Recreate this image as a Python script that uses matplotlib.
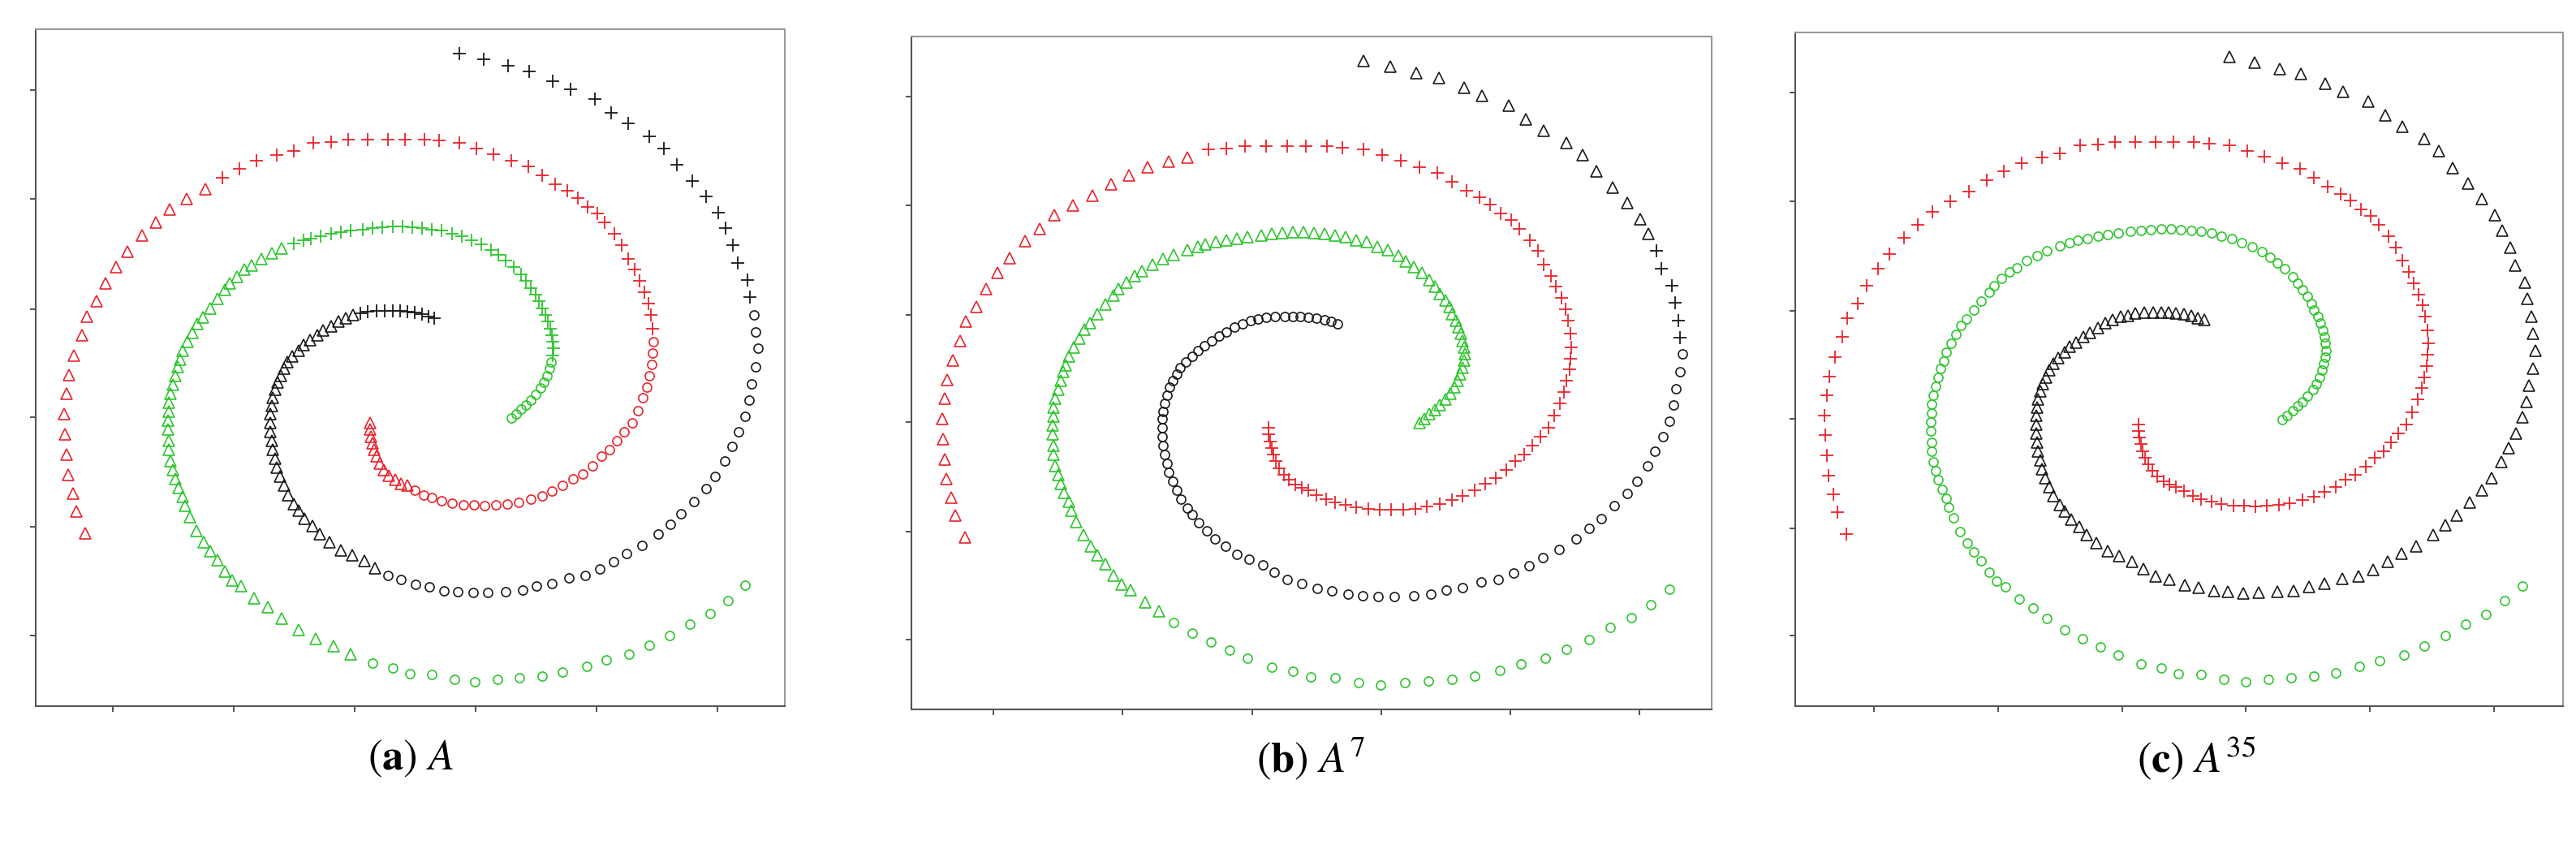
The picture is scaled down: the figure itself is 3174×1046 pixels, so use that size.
import matplotlib.pyplot as plt
import numpy as np

plt.rcParams['mathtext.fontset'] = 'stix'
plt.rcParams['font.family'] = 'STIXGeneral'

# spiral arms, points ordered from centre outwards
green_x = [985, 995, 1005, 1015, 1025, 1035, 1045, 1052, 1058, 1063, 1067,
           1070, 1072, 1070, 1068, 1065, 1060, 1055, 1048, 1042, 1035, 1025, 1015, 1005, 990, 975,
           960, 945, 925, 905, 885, 865, 845, 825, 805, 785, 765, 745, 725, 705, 685, 660, 640,
           620, 600, 580, 565, 545,
           520, 500, 480, 460, 445, 430, 415, 405, 390, 375, 360, 350, 340, 330, 320, 315, 310,
           305, 300, 295, 292, 292, 290, 290, 292, 292, 295, 300, 305, 312, 320, 325, 335, 348,
           362, 375, 390, 405, 420, 438, 465, 492, 520, 555, 590, 625, 660,
           705, 745, 780, 825, 870, 912, 958, 1003, 1048, 1090, 1138, 1178, 1225, 1265, 1307,
           1348, 1388, 1425, 1460]
green_y = [885, 875, 865, 855, 845, 832, 818, 805, 790, 775, 760,
           745, 730, 715, 700, 685, 670, 655, 640, 625, 610, 595, 580, 565, 548, 535,
           522, 510, 498, 490, 480, 475, 468, 465, 462, 460, 458, 458, 460, 462, 465, 468, 472,
           475, 480, 485, 490, 497,
           508, 518, 530, 545, 555, 570, 585, 600, 620, 640, 660, 675, 695, 715, 735, 755, 770,
           790, 810, 830, 850, 870, 890, 910, 935, 955, 980, 1000, 1020, 1040, 1060, 1080, 1105,
           1135, 1160, 1180, 1200, 1225, 1245, 1258, 1285, 1305, 1330, 1355, 1375, 1392, 1410,
           1430, 1440, 1452, 1455, 1465, 1470, 1465, 1462, 1458, 1450, 1437, 1423, 1410, 1390,
           1368, 1342, 1320, 1290, 1257]

red_x = [700, 700, 702, 705, 708, 713, 720, 728, 738, 750, 762, 775,
         790, 808, 825, 845, 865, 888, 910, 932, 955, 978, 1000, 1025, 1048, 1068, 1090, 1110,
         1130, 1150, 1168, 1185, 1200, 1215, 1230, 1242, 1252, 1260, 1265, 1270, 1272, 1273,
         1272, 1268, 1263, 1255, 1245, 1235, 1222, 1210, 1195, 1175, 1160, 1140, 1120, 1100,
         1075, 1048, 1020, 985, 950, 915, 880, 840, 810, 770, 735, 695, 655, 620, 585, 545,
         510, 470, 435, 400,
         365, 328, 293, 265, 237, 208, 185, 163, 145, 125, 115, 100, 90, 85, 80, 82, 85, 88,
         97, 105, 123]
red_y = [895, 910, 925, 940, 955, 970, 985, 1000, 1012, 1022, 1030, 1035,
         1045, 1055, 1062, 1068, 1073, 1077, 1078, 1079, 1078, 1076, 1072, 1065, 1057, 1047,
         1035, 1020, 1008, 990, 970, 955, 935, 915, 895, 868, 840, 815, 790, 765, 740, 715,
         685, 655, 630, 605, 580, 555, 530, 500, 475, 450, 430, 415, 395, 380, 365, 345, 325,
         312, 298, 285, 272, 268, 265, 265, 265, 265, 265, 270, 272, 290, 300, 312, 330, 350,
         375, 398, 420, 450, 478, 515, 548, 585, 625, 658, 700, 745, 788, 830, 875, 920, 965,
         1010, 1052, 1092, 1140]

black_x = [830, 818, 805, 790, 775, 760, 745, 730, 712, 695, 680,
           665, 650, 635, 620, 605, 592, 578, 565, 555, 542, 532, 525, 518, 512, 507, 502, 500,
           498, 498, 498, 500, 502, 507, 510, 517, 525, 533, 545, 555, 567, 583, 598, 618, 640,
           663, 688, 710,
           735, 762, 792, 820, 850, 878, 908, 938, 975, 1008, 1037, 1068, 1103, 1135, 1165,
           1193, 1220, 1250, 1283, 1308, 1330, 1355, 1380, 1398, 1418, 1433, 1447, 1460, 1467,
           1473, 1480, 1485, 1480, 1477,
           1470, 1465, 1445, 1435, 1420, 1405, 1380, 1352, 1322, 1295, 1265, 1222, 1188, 1155,
           1105, 1070, 1022, 980, 930, 880]
black_y = [662, 658, 653, 650, 648, 646, 646, 646, 646, 648, 652,
           655, 662, 670, 680, 690, 700, 712, 722, 735, 748, 760, 775, 790, 805, 822, 840, 858,
           875, 895, 915, 935, 955, 975, 995, 1015, 1035, 1055, 1075, 1090, 1108, 1125, 1143,
           1160, 1178, 1190, 1202, 1218,
           1235, 1243, 1255, 1260, 1268, 1270, 1273, 1272, 1270, 1267, 1258, 1252, 1240, 1235,
           1220, 1203, 1185, 1168, 1143, 1120, 1098, 1070, 1042, 1015, 980, 948, 915, 880, 845,
           808, 770, 730, 693, 655,
           615, 578, 540, 500, 462, 428, 392, 358, 322, 285, 258, 230, 205, 175, 153, 135, 113,
           102, 87, 75]

# marker runs along each arm (count, marker) for each panel
panel_labels = [r'($\mathbf{a}$) $A$', r'($\mathbf{b}$) $A^{7}$', r'($\mathbf{c}$) $A^{35}$']
green_runs = [[(11, 'o'), (37, '+'), (47, '^'), (19, 'o')],
              [(90, '^'), (24, 'o')],
              [(114, 'o')]]
red_runs = [[(12, '^'), (30, 'o'), (34, '+'), (21, '^')],
            [(71, '+'), (26, '^')],
            [(97, '+')]]
black_runs = [[(11, '+'), (37, '^'), (34, 'o'), (20, '+')],
              [(80, 'o'), (6, '+'), (16, '^')],
              [(102, '^')]]

arms = [(green_x, green_y, green_runs, '#2ec52e'),
        (red_x, red_y, red_runs, '#e8242c'),
        (black_x, black_y, black_runs, '#1a1a1a')]

W, H = 3174, 1046
boxes = [(44, 36, 967, 870), (1123, 45, 2109, 874), (2212, 40, 3158, 870)]
label_x = [506, 1615, 2706]

fig = plt.figure(figsize=(W / 100, H / 100), dpi=100)
msize = {'o': 8, '^': 9.5, '+': 12}

for p, (x0, y0, x1, y1) in enumerate(boxes):
    ax = fig.add_axes([x0 / W, 1 - y1 / H, (x1 - x0) / W, (y1 - y0) / H])
    for xs, ys, runs, col in arms:
        xs = np.array(xs)
        ys = 1525 - np.array(ys)
        start = 0
        for n, m in runs[p]:
            sl = slice(start, start + n)
            if m == '+':
                ax.plot(xs[sl], ys[sl], ls='none', marker='+', ms=msize[m], mew=1.3, color=col)
            else:
                ax.plot(xs[sl], ys[sl], ls='none', marker=m, ms=msize[m], mew=1.2,
                        mfc='none', mec=col)
            start += n
    ax.set_xlim(22, 1540)
    ax.set_ylim(0, 1505)
    ax.set_xticks([178, 423, 668, 913, 1158, 1403])
    ax.set_yticks([157, 398, 642, 883, 1127, 1370])
    ax.tick_params(direction='out', length=5, width=1.2, color='#333333',
                   labelbottom=False, labelleft=False)
    for s in ['top', 'right']:
        ax.spines[s].set_color('#999999')
        ax.spines[s].set_linewidth(1.5)
    for s in ['left', 'bottom']:
        ax.spines[s].set_color('#555555')
        ax.spines[s].set_linewidth(1.5)
    fig.text(label_x[p] / W, 1 - 935 / H, panel_labels[p], ha='center', va='center', fontsize=38)

fig.savefig('out.png', dpi=100)
